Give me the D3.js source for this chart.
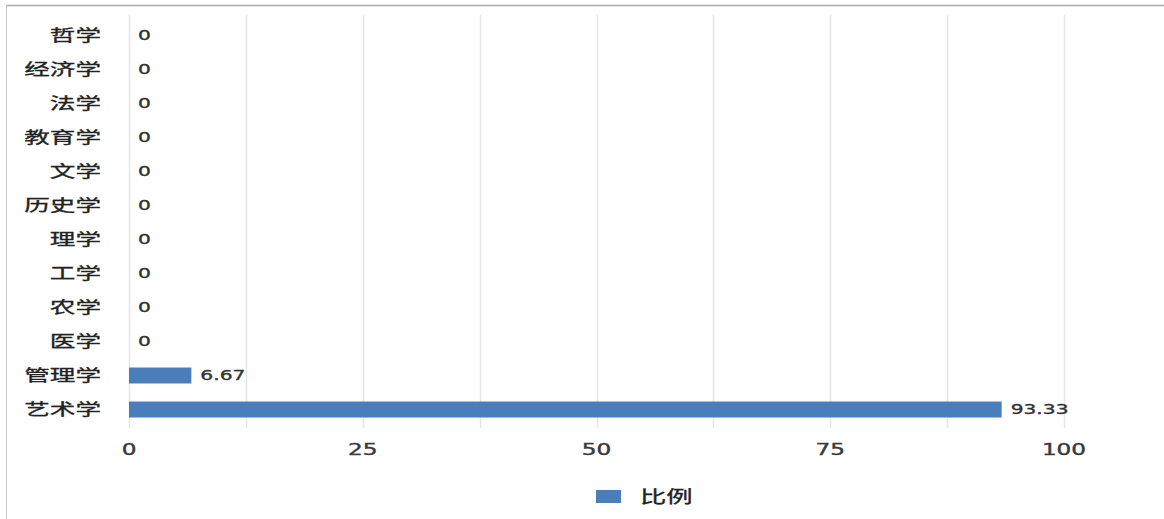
<!DOCTYPE html>
<html><head><meta charset="utf-8">
<script src="https://cdn.jsdelivr.net/npm/d3@7"></script>
<style>
html,body{margin:0;padding:0;background:#fff;}
svg{display:block;}
</style></head>
<body>
<svg id="chart" width="1164" height="519"></svg>
<script>
const categories = ["哲学","经济学","法学","教育学","文学","历史学","理学","工学","农学","医学","管理学","艺术学"];
const values = [0,0,0,0,0,0,0,0,0,0,6.67,93.33];
const xTicks = [0,25,50,75,100];
const gridTicks = [0,12.5,25,37.5,50,62.5,75,87.5,100];
const seriesName = "比例";

const svg = d3.select("#chart");
const W = 1164, H = 519;
const color = "#4a7ebb";
const SX = 1.6;

// frame
svg.append("line").attr("x1",6).attr("x2",W).attr("y1",5.5).attr("y2",5.5).attr("stroke","#a8a8a8").attr("stroke-width",1.5);
svg.append("line").attr("x1",6.5).attr("x2",6.5).attr("y1",5).attr("y2",H).attr("stroke","#c8c8c8").attr("stroke-width",1);

const x = d3.scaleLinear().domain([0,100]).range([129,1064]);
const y = d3.scaleBand().domain(categories).range([18.5,426.5]).paddingInner(0.53).paddingOuter(0.265);

// grid
svg.append("g").selectAll("line").data(gridTicks).join("line")
  .attr("x1",d=>Math.round(x(d))+0.5).attr("x2",d=>Math.round(x(d))+0.5)
  .attr("y1",15).attr("y2",428)
  .attr("stroke","#e6e6e6").attr("stroke-width",1.5);

// bars
svg.append("g").selectAll("rect").data(values).join("rect")
  .attr("x",x(0)).attr("y",(d,i)=>y(categories[i]))
  .attr("width",d=>x(d)-x(0)).attr("height",y.bandwidth())
  .attr("fill",color);

// value labels
svg.append("g").selectAll("text").data(values).join("text")
  .attr("transform",(d,i)=>`translate(${x(d)+9},${y(categories[i])+y.bandwidth()/2}) scale(1.5,1)`)
  .attr("dy","0.36em")
  .attr("font-family","DejaVu Sans, sans-serif").attr("font-size",13.5)
  .attr("fill","#333").attr("stroke","#333").attr("stroke-width",0.35)
  .text(d=>d===0?"0":d.toFixed(2));

// category axis labels
svg.append("g").selectAll("text").data(categories).join("text")
  .attr("transform",d=>`translate(101,${y(d)+y.bandwidth()/2}) scale(${SX},1)`)
  .attr("dy","0.36em").attr("text-anchor","end")
  .attr("font-family","Noto Sans CJK SC, sans-serif").attr("font-size",16)
  .attr("fill","#222").attr("stroke","#222").attr("stroke-width",0.3)
  .text(d=>d);

// x tick labels
svg.append("g").selectAll("text").data(xTicks).join("text")
  .attr("transform",d=>`translate(${x(d)},449) scale(1.45,1)`)
  .attr("dy","0.36em").attr("text-anchor","middle")
  .attr("font-family","DejaVu Sans, sans-serif").attr("font-size",16)
  .attr("fill","#3a3a3a").attr("stroke","#3a3a3a").attr("stroke-width",0.4)
  .text(d=>d);

// legend
const lg = svg.append("g");
lg.append("rect").attr("x",596).attr("y",490).attr("width",25).attr("height",13).attr("fill",color);
lg.append("text").attr("transform","translate(640,497) scale(1.55,1)").attr("dy","0.36em")
  .attr("font-family","Noto Sans CJK SC, sans-serif").attr("font-size",17)
  .attr("fill","#222").attr("stroke","#222").attr("stroke-width",0.3)
  .text(seriesName);
</script>
</body></html>
